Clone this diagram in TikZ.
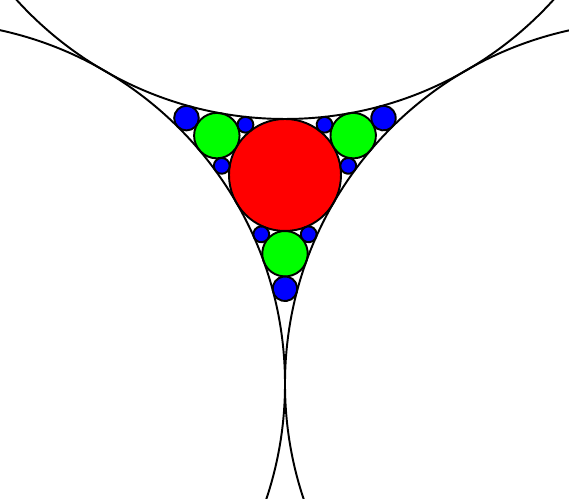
\documentclass[tikz,border=0pt]{standalone}
\usepackage{tikz}
\usepackage{xcolor}

\begin{document}
\begin{tikzpicture}[scale=3.62, line width=0.55pt,
    grande/.style={draw=black},
    bola/.style={draw=black, fill=#1}]
        \useasboundingbox (-0.7873,-0.8950) rectangle (0.7845,0.4834);
        \clip (-0.7873,-0.8950) rectangle (0.7845,0.4834);

        % Circulo vermelho no centro
        \draw[bola=red] (0,0) circle (0.1547);

        % Verdes e azuis em cada canto
        \foreach \r in {0,120,240} {
          \begin{scope}[rotate=\r]
            \draw[bola=green] (150:0.21748) circle (0.06278);
            \draw[bola=blue] (150:0.31429) circle (0.03402);
            \draw[bola=blue] (-0.10921,0.13871) circle (0.02184);
            \draw[bola=blue] (-0.17473,0.02522) circle (0.02184);
          \end{scope}
        }

        % Tres circulos grandes
        \foreach \a in {90,210,330}
          \draw[grande] (\a:1.1547) circle (1);
    \end{tikzpicture}
\end{document}
